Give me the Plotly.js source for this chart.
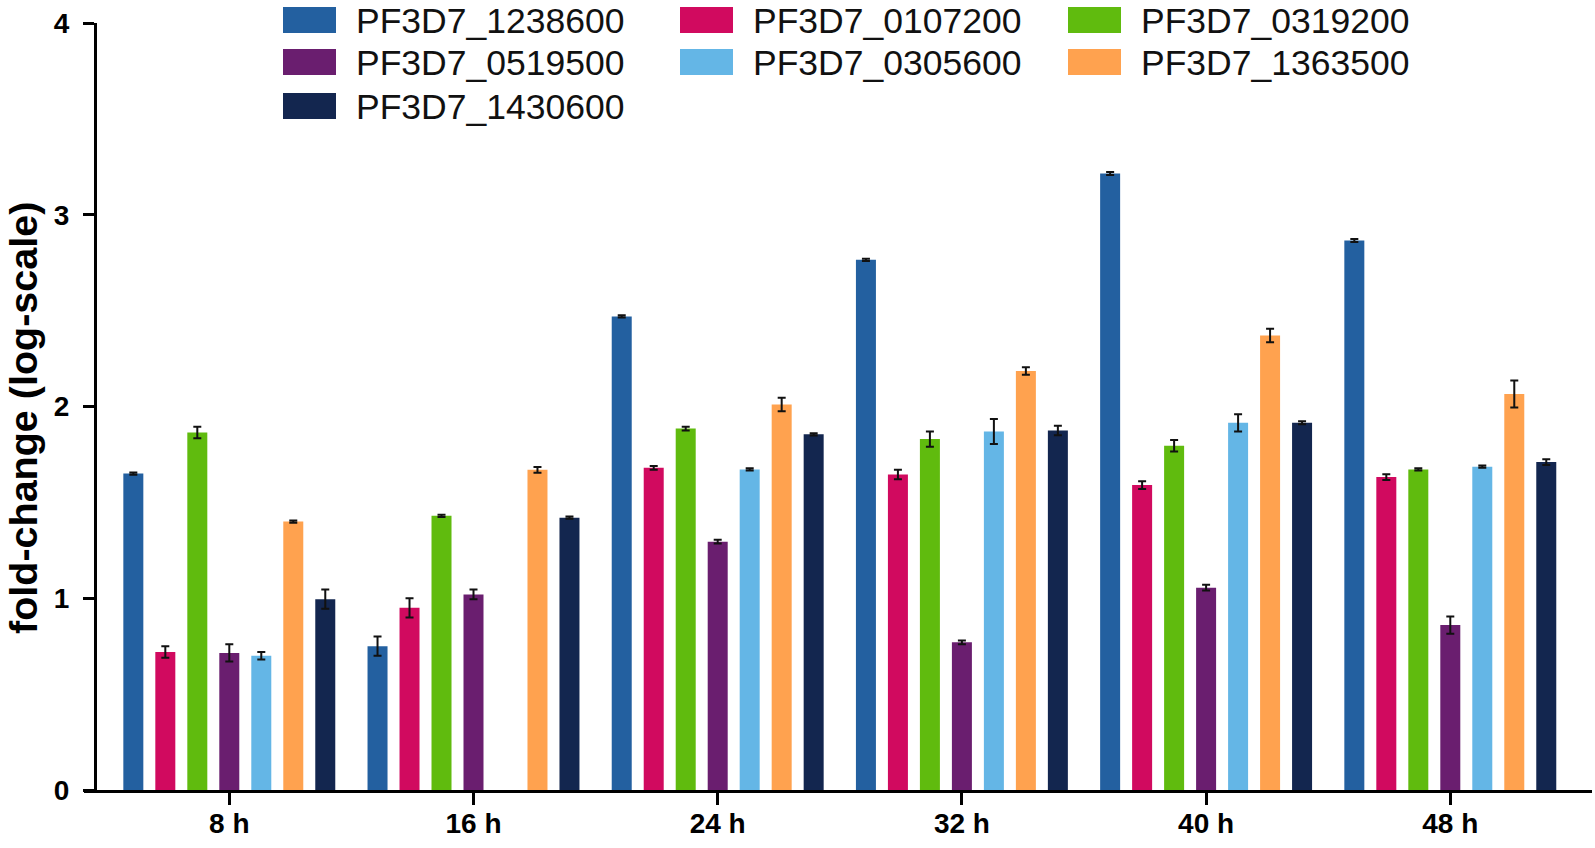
<!DOCTYPE html>
<html>
<head>
<meta charset="utf-8">
<script src="https://cdn.plot.ly/plotly-3.0.1.min.js"></script>
<style>html,body{margin:0;padding:0;background:#fff;}#chart{width:1595px;height:848px;}</style>
</head>
<body>
<div id="chart"></div>
<script>
// ---- data ----
const categories = ['8 h', '16 h', '24 h', '32 h', '40 h', '48 h'];
const seriesNames = ['PF3D7_1238600', 'PF3D7_0107200', 'PF3D7_0319200', 'PF3D7_0519500', 'PF3D7_0305600', 'PF3D7_1363500', 'PF3D7_1430600'];
const seriesColors = ['#2360a0', '#d10a5f', '#60bb0e', '#6a1e6f', '#64b6e6', '#ffa24f', '#13264f'];
const yTitle = 'fold-change (log-scale)';

const v1238600 = [1.65, 0.75, 2.47, 2.765, 3.215, 2.866];
const e1238600 = [0.006, 0.05, 0.006, 0.006, 0.008, 0.008];
const v0107200 = [0.72, 0.95, 1.68, 1.645, 1.59, 1.632];
const e0107200 = [0.03, 0.05, 0.01, 0.025, 0.02, 0.015];
const v0319200 = [1.865, 1.43, 1.885, 1.83, 1.795, 1.672];
const e0319200 = [0.03, 0.006, 0.01, 0.04, 0.03, 0.006];
const v0519500 = [0.715, 1.02, 1.295, 0.77, 1.055, 0.86];
const e0519500 = [0.045, 0.025, 0.01, 0.01, 0.015, 0.045];
const v0305600 = [0.70, null, 1.672, 1.87, 1.915, 1.686];
const e0305600 = [0.02, 0, 0.006, 0.065, 0.045, 0.006];
const v1363500 = [1.40, 1.67, 2.01, 2.185, 2.37, 2.065];
const e1363500 = [0.006, 0.015, 0.035, 0.02, 0.035, 0.07];
const v1430600 = [0.995, 1.42, 1.855, 1.875, 1.915, 1.71];
const e1430600 = [0.05, 0.006, 0.006, 0.025, 0.008, 0.015];

const seriesValues = [v1238600, v0107200, v0319200, v0519500, v0305600, v1363500, v1430600];
const seriesErrors = [e1238600, e0107200, e0319200, e0519500, e0305600, e1363500, e1430600];

const yTicks = [0, 1, 2, 3, 4];

// ---- layout geometry (pixels) ----
const W = 1595, H = 848;
const plotL = 84, plotR = 1592, plotT = 23, plotB = 790;
const yAxisX = 95;
const firstCatX = 229.3, catStep = 244.2;
const pw = plotR - plotL, ph = plotB - plotT;
const px2x = p => (p - plotL) / pw;
const py2y = p => (plotB - p) / ph;

const FONT = 'Liberation Sans, Arial, Helvetica, sans-serif';

const traces = seriesNames.map((name, i) => ({
  type: 'bar',
  name: name,
  x: categories,
  y: seriesValues[i],
  marker: {color: seriesColors[i], line: {width: 0}},
  error_y: {type: 'data', array: seriesErrors[i], visible: true, color: '#111', thickness: 2, width: 4},
  showlegend: false,
  hoverinfo: 'x+y+name'
}));

// custom legend (3 columns, row-major order)
const legendCols = [283, 680, 1068];
const legendRows = [20, 62, 106];
const swW = 53, swH = 26;
const shapes = [];
const annotations = [];
seriesNames.forEach((name, i) => {
  const col = i % 3, row = Math.floor(i / 3);
  const x0 = legendCols[col], yc = legendRows[row];
  shapes.push({
    type: 'rect', xref: 'paper', yref: 'paper',
    x0: px2x(x0), x1: px2x(x0 + swW),
    y0: py2y(yc + swH / 2), y1: py2y(yc - swH / 2),
    fillcolor: seriesColors[i], line: {width: 0}
  });
  annotations.push({
    xref: 'paper', yref: 'paper', x: px2x(x0 + swW + 18), y: py2y(yc + 1),
    xanchor: 'left', yanchor: 'middle', showarrow: false,
    text: name, font: {family: FONT, size: 35.5, color: '#111'}
  });
});

// y-axis title
annotations.push({
  xref: 'paper', yref: 'paper', x: px2x(23), y: py2y(418),
  xanchor: 'center', yanchor: 'middle', showarrow: false, textangle: -90,
  text: yTitle, font: {family: FONT, size: 39.5, color: '#000', weight: 700}
});

const layout = {
  width: W, height: H,
  margin: {l: plotL, r: W - plotR, t: plotT, b: H - plotB, pad: 0},
  paper_bgcolor: '#fff', plot_bgcolor: '#fff',
  showlegend: false,
  barmode: 'group',
  bargap: 0.083,
  bargroupgap: 0.375,
  font: {family: FONT, color: '#000'},
  xaxis: {
    type: 'category',
    range: [-(firstCatX - plotL) / catStep, (plotR - firstCatX) / catStep],
    showline: true, linecolor: '#000', linewidth: 3,
    ticks: 'outside', ticklen: 12, tickwidth: 3, tickcolor: '#000',
    tickfont: {family: FONT, size: 28, color: '#000', weight: 700},
    ticklabelstandoff: -6,
    showgrid: false, zeroline: false, fixedrange: true
  },
  yaxis: {
    anchor: 'free', position: px2x(yAxisX),
    range: [0, 4],
    tickvals: yTicks, ticktext: yTicks.map(String),
    showline: true, linecolor: '#000', linewidth: 3,
    ticks: 'outside', ticklen: 11, tickwidth: 3, tickcolor: '#000',
    tickfont: {family: FONT, size: 28, color: '#000', weight: 700},
    ticklabelstandoff: 8,
    showgrid: false, zeroline: false, fixedrange: true
  },
  shapes: shapes,
  annotations: annotations
};

Plotly.newPlot('chart', traces, layout, {displayModeBar: false, staticPlot: true});
</script>
</body>
</html>
